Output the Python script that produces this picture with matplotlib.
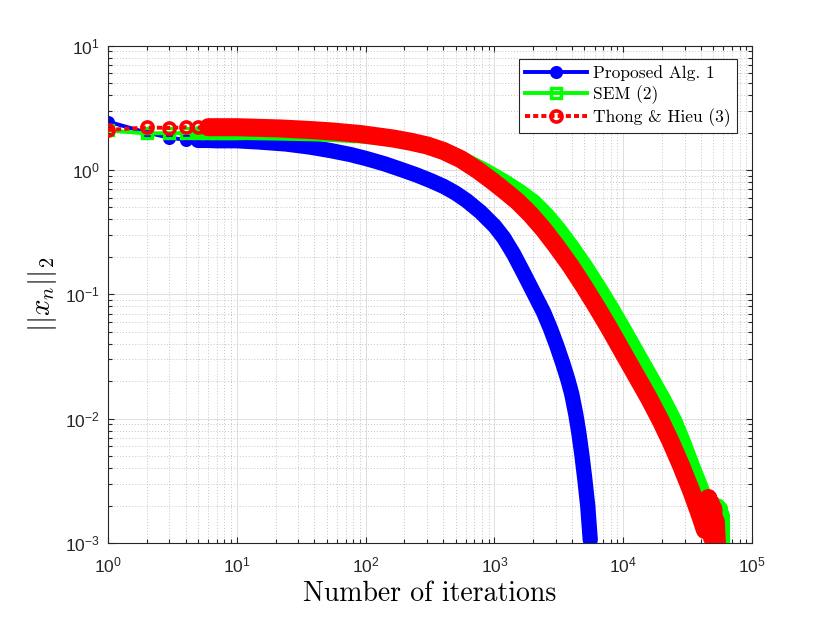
import matplotlib
matplotlib.use('Agg')
import matplotlib.pyplot as plt
from matplotlib.ticker import LogLocator, NullFormatter
from matplotlib.font_manager import FontProperties

plt.rcParams['font.family'] = ['Liberation Sans', 'DejaVu Sans']
plt.rcParams['mathtext.fontset'] = 'custom'
plt.rcParams['mathtext.rm'] = 'Liberation Sans'
plt.rcParams['mathtext.it'] = 'Liberation Sans:italic'
plt.rcParams['mathtext.bf'] = 'Liberation Sans:bold'

# ---------------- data ----------------
blue_iter = [1, 2, 3, 4, 5, 6, 7, 8, 9, 10, 15, 24, 37, 53, 76, 101, 140, 189, 249, 319,
             405, 499, 608, 781, 1004, 1179, 1410, 1687, 2017, 2413, 2735, 3046, 3390,
             3709, 3985, 4280, 4515, 4767, 5028, 5305, 5549]
blue_val = [2.45, 2.00, 1.82, 1.75, 1.73, 1.73, 1.72, 1.72, 1.72, 1.72, 1.68, 1.62, 1.53,
            1.436, 1.333, 1.237, 1.122, 1.009, 0.912, 0.823, 0.737, 0.653, 0.568, 0.459,
            0.354, 0.286, 0.211, 0.148, 0.103, 0.0715, 0.0524, 0.0388, 0.0280, 0.0208,
            0.0158, 0.0109, 0.0078, 0.0052, 0.0033, 0.00198, 0.00106]

green_iter = [1, 2, 3, 4, 5, 6, 7, 8, 9, 10, 22, 37, 53, 91, 164, 267, 403, 583, 859,
              1242, 1616, 2054, 2588, 3236, 4056, 5166, 6494, 8171, 10270, 12970, 16360,
              20650, 25510, 29760, 34770, 41520, 47740, 50000, 52500, 55000, 56500,
              57500, 58500, 59200, 59800]
green_val = [2.08, 1.97, 1.98, 1.98, 1.98, 1.98, 1.98, 1.98, 1.98, 1.985, 1.959, 1.938,
             1.912, 1.860, 1.759, 1.634, 1.448, 1.226, 1.000, 0.801, 0.671, 0.558, 0.4385,
             0.332, 0.2424, 0.1689, 0.1166, 0.0790, 0.0526, 0.0343, 0.02243, 0.01464,
             0.00957, 0.00648, 0.00423, 0.002665, 0.001773, 0.0021, 0.0019, 0.0020,
             0.0013, 0.0019, 0.0011, 0.0017, 0.0010]

red_iter = [1, 2, 3, 4, 5, 6, 7, 8, 9, 10, 22, 37, 53, 91, 164, 223, 302, 403, 546, 740,
            986, 1222, 1515, 1912, 2413, 3046, 3913, 4939, 6232, 7865, 9929, 12530, 15820,
            19610, 23450, 28050, 33550, 38710, 43110, 44700, 45800, 46800, 47800, 48900,
            50000, 51200, 52300, 53400]
red_val = [2.10, 2.20, 2.18, 2.21, 2.20, 2.21, 2.21, 2.21, 2.21, 2.21, 2.158, 2.098, 2.048,
           1.948, 1.792, 1.690, 1.574, 1.422, 1.226, 1.000, 0.801, 0.671, 0.558, 0.4385,
           0.332, 0.2424, 0.1689, 0.1166, 0.0790, 0.0526, 0.0343, 0.02243, 0.01464,
           0.00957, 0.00648, 0.00423, 0.002665, 0.001773, 0.00127, 0.0019, 0.0023,
           0.0013, 0.0021, 0.0011, 0.0019, 0.0010, 0.0015, 0.0010]

labels = ['Proposed Alg. 1', 'SEM (2)', 'Thong & Hieu (3)']

# ---------------- figure ----------------
fig = plt.figure(figsize=(8.3, 6.23), dpi=100)
ax = fig.add_axes([108 / 830, 1 - 543 / 623, (752 - 108) / 830, (543 - 45.7) / 623])
ax.set_xscale('log')
ax.set_yscale('log')


def draw(n, v, color, marker, ms, mew, mfc, ls, band_lw, band_start, label, z):
    idx = [i for i, k in enumerate(n) if k <= 10]
    i0 = next(i for i, k in enumerate(n) if k >= band_start)
    ax.plot(n[i0:], v[i0:], color=color, lw=band_lw, solid_capstyle='round',
            solid_joinstyle='round', zorder=z)
    ax.plot(n, v, color=color, lw=2.8, ls=ls, marker=marker, ms=ms, mew=mew,
            mfc=mfc, mec=color, markevery=idx, label=label, zorder=z + 0.1)


draw(blue_iter, blue_val, '#0000ff', 'o', 8, 1.4, '#0000ff', '-', 11, 5, labels[0], 2)
draw(green_iter, green_val, '#00ff00', 's', 6.5, 2.4, 'none', '-', 10, 5, labels[1], 3)
draw(red_iter, red_val, '#ff0000', 'o', 8, 2.6, 'none', (0, (1.3, 0.8)), 13, 6,
     labels[2], 4)

ax.set_xlim(1, 1e5)
ax.set_ylim(1e-3, 1e1)

ax.xaxis.set_major_locator(LogLocator(base=10, numticks=20))
ax.yaxis.set_major_locator(LogLocator(base=10, numticks=20))
ax.xaxis.set_minor_locator(LogLocator(base=10, subs=range(2, 10), numticks=200))
ax.yaxis.set_minor_locator(LogLocator(base=10, subs=range(2, 10), numticks=200))
ax.xaxis.set_minor_formatter(NullFormatter())
ax.yaxis.set_minor_formatter(NullFormatter())

ax.set_axisbelow(True)
ax.grid(True, which='major', color='#dedede', lw=0.7, ls='-')
ax.grid(True, which='minor', color='#c4c4c4', lw=0.7, ls=(0, (1, 2)))

ax.tick_params(which='both', direction='in', top=True, right=True, color='#262626',
               labelcolor='#262626', width=0.8)
ax.tick_params(which='major', length=4.5, labelsize=12.5)
ax.tick_params(which='minor', length=2.8)
ax.tick_params(axis='x', which='major', pad=9)
ax.tick_params(axis='y', which='major', pad=6)
for s in ax.spines.values():
    s.set_color('#262626')
    s.set_linewidth(0.8)

ax.set_xlabel('Number of iterations', fontfamily='cmr10', fontsize=20, labelpad=4)
ax.set_ylabel(r'$||x_n||_2$', fontsize=21, math_fontfamily='cm', labelpad=4)

prop = FontProperties(family='cmr10', size=12.5)
leg = ax.legend(loc='upper right', bbox_to_anchor=(737 / 830, 1 - 59 / 623),
                bbox_transform=fig.transFigure, borderaxespad=0, prop=prop,
                frameon=True, fancybox=False, edgecolor='#262626', framealpha=1,
                handlelength=3.6, labelspacing=0.25, borderpad=0.35,
                handletextpad=0.35, numpoints=1)
leg.get_frame().set_linewidth(0.8)
leg.set_zorder(10)

fig.savefig('out.png', dpi=100)
